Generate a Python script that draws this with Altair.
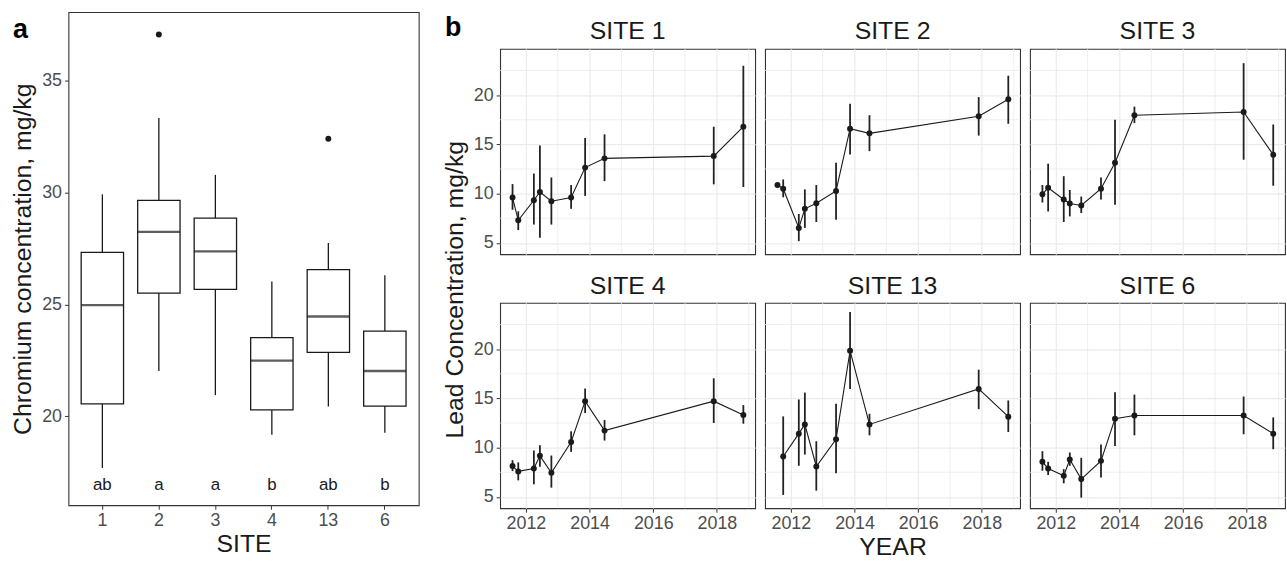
import altair as alt
import pandas as pd

FONT = "Liberation Sans"
INK = "#1A1A1A"
TICK_LABEL = "#4D4D4D"
GRID = "#EBEBEB"
BORDER = "#333333"

# ---------------- panel a : chromium boxplots ----------------
SITES_A = ["1", "2", "3", "4", "13", "6"]
WHISKER_LO = [17.70, 22.03, 20.95, 19.18, 20.44, 19.27]
Q1 = [20.56, 25.51, 25.67, 20.29, 22.86, 20.46]
MEDIAN = [24.97, 28.24, 27.37, 22.49, 24.46, 22.03]
Q3 = [27.33, 29.65, 28.86, 23.52, 26.56, 23.81]
WHISKER_HI = [29.92, 33.33, 30.79, 26.03, 27.75, 26.30]
OUTLIER_SITE = ["2", "13"]
OUTLIER_VAL = [37.06, 32.40]
LETTERS = ["ab", "a", "a", "b", "ab", "b"]
LETTER_Y = 16.95
A_YTICKS = [20, 25, 30, 35]
A_YDOMAIN = [16.03, 38.06]

# ---------------- panel b : lead time series ----------------
DATES = [2011.58, 2011.76, 2012.25, 2012.44, 2012.80, 2013.42, 2013.86, 2014.47, 2017.90, 2018.83]

SITE1_MEAN = [9.60, 7.29, 9.33, 10.17, 9.23, 9.60, 12.64, 13.58, 13.81, 16.79]
SITE1_LO = [8.36, 6.30, 6.86, 5.52, 6.86, 8.46, 9.77, 11.27, 10.94, 10.67]
SITE1_HI = [10.97, 8.20, 12.04, 14.88, 11.64, 10.87, 15.65, 16.02, 16.79, 22.98]

SITE2_MEAN = [10.87, 10.50, 6.52, 8.46, 9.03, 10.27, 16.59, 16.12, 17.86, 19.57]
SITE2_LO = [10.70, 9.63, 5.18, 6.52, 7.12, 7.36, 13.98, 14.31, 15.89, 17.09]
SITE2_HI = [11.00, 11.44, 7.93, 10.43, 10.87, 13.14, 19.13, 17.96, 19.80, 21.97]

SITE3_MEAN = [9.93, 10.60, 9.40, 9.00, 8.80, 10.50, 13.14, 17.96, 18.29, 13.95]
SITE3_LO = [9.10, 8.19, 7.12, 7.69, 8.03, 9.40, 8.86, 17.16, 13.44, 10.80]
SITE3_HI = [10.87, 13.04, 11.77, 10.37, 9.70, 11.64, 17.49, 18.83, 23.24, 17.02]

SITE4_MEAN = [8.13, 7.59, 7.89, 9.17, 7.45, 10.58, 14.72, 11.73, 14.72, 13.31]
SITE4_LO = [7.62, 6.68, 6.28, 8.06, 5.94, 9.57, 13.51, 10.72, 12.50, 12.43]
SITE4_HI = [8.73, 8.50, 9.71, 10.25, 9.20, 11.66, 16.00, 12.80, 17.04, 14.32]

SITE13_MEAN = [None, 9.10, 11.42, 12.36, 8.09, 10.85, 19.83, 12.36, 15.96, 13.14]
SITE13_LO = [None, 5.20, 8.16, 9.30, 5.64, 7.39, 15.96, 11.25, 13.91, 11.59]
SITE13_HI = [None, 13.17, 14.89, 15.59, 10.65, 14.45, 23.77, 13.44, 17.91, 14.79]

SITE6_MEAN = [8.56, 7.89, 7.15, 8.80, 6.81, 8.66, 12.94, 13.27, 13.27, 11.42]
SITE6_LO = [7.66, 7.22, 6.38, 8.16, 4.93, 6.98, 10.18, 11.25, 11.36, 9.84]
SITE6_HI = [9.64, 8.56, 7.82, 9.51, 8.97, 10.31, 15.63, 15.39, 15.19, 13.07]

B_XTICKS = [2012, 2014, 2016, 2018]
B_XMINOR = [2013, 2015, 2017, 2019]
B_YTICKS = [5, 10, 15, 20]
B_YMINOR = [7.5, 12.5, 17.5, 22.5]
B_XDOMAIN = [2011.19, 2019.20]
B_YDOMAIN = [3.85, 24.70]

# ---------------- sizes ----------------
A_W, A_H = 353, 497
B_W, B_H = 257, 207
PAD_INNER, PAD_OUTER = 0.25, 0.225
STEP = A_W / (len(SITES_A) - PAD_INNER + 2 * PAD_OUTER)
BOX_W = STEP * (1 - PAD_INNER)

# ================= panel a =================
box_df = pd.DataFrame({
    "site": SITES_A, "wlo": WHISKER_LO, "q1": Q1, "median": MEDIAN,
    "q3": Q3, "whi": WHISKER_HI, "letter": LETTERS,
    "ly": [LETTER_Y] * len(SITES_A),
})
out_df = pd.DataFrame({"site": OUTLIER_SITE, "value": OUTLIER_VAL})

xA = alt.X("site:N", sort=SITES_A,
           scale=alt.Scale(paddingInner=PAD_INNER, paddingOuter=PAD_OUTER),
           axis=alt.Axis(title="SITE", labelAngle=0, grid=False, titlePadding=3))
a_yscale = alt.Scale(domain=A_YDOMAIN, nice=False, zero=False)
a_yaxis = alt.Axis(title="Chromium concentration, mg/kg", values=A_YTICKS, grid=False,
                   labelPadding=3, titlePadding=6)


def yA(field):
    return alt.Y(field, scale=a_yscale, axis=a_yaxis)


base_a = alt.Chart(box_df)
lower = base_a.mark_rule(color=INK, strokeWidth=1.3).encode(x=xA, y=yA("wlo:Q"), y2="q1:Q")
upper = base_a.mark_rule(color=INK, strokeWidth=1.3).encode(x=xA, y=yA("q3:Q"), y2="whi:Q")
boxes = base_a.mark_bar(fill="white", stroke=INK, strokeWidth=1.3).encode(
    x=xA, y=yA("q1:Q"), y2="q3:Q")
medians = base_a.mark_tick(color=INK, thickness=2.4, size=BOX_W).encode(x=xA, y=yA("median:Q"))
letters = base_a.mark_text(font=FONT, fontSize=17, color=INK).encode(
    x=xA, y=yA("ly:Q"), text="letter:N")
outliers = alt.Chart(out_df).mark_circle(size=36, color=INK, opacity=1).encode(
    x=xA, y=yA("value:Q"))

panel_a = alt.layer(lower, upper, boxes, medians, outliers, letters).properties(
    width=A_W, height=A_H,
    title=alt.TitleParams("a", anchor="start", frame="bounds", font=FONT, fontSize=27,
                          fontWeight="bold", color="black", baseline="alphabetic",
                          offset=-53, dx=2),
)


# ================= panel b =================
def site_panel(name, means, lo, hi, show_y, show_x, x_title):
    df = pd.DataFrame({"year": DATES, "mean": means, "lo": lo, "hi": hi}).dropna()
    xaxis_kw = dict(values=B_XTICKS, format="d", grid=True, labels=show_x, ticks=show_x,
                    titlePadding=3)
    xaxis_kw["title"] = x_title if x_title else None
    xscale = alt.Scale(domain=B_XDOMAIN, nice=False, zero=False)
    xaxis = alt.Axis(**xaxis_kw)
    yscale = alt.Scale(domain=B_YDOMAIN, nice=False, zero=False)
    yaxis = alt.Axis(values=B_YTICKS, grid=True, labels=show_y, ticks=show_y, title=None,
                     labelPadding=3)

    def xB(field):
        return alt.X(field, scale=xscale, axis=xaxis)

    def yB(field):
        return alt.Y(field, scale=yscale, axis=yaxis)

    gx = alt.Chart(pd.DataFrame({"year": B_XMINOR})).mark_rule(
        color=GRID, strokeWidth=0.8).encode(x=xB("year:Q"))
    gy = alt.Chart(pd.DataFrame({"mean": B_YMINOR})).mark_rule(
        color=GRID, strokeWidth=0.8).encode(y=yB("mean:Q"))
    base = alt.Chart(df)
    err = base.mark_rule(color="#222222", strokeWidth=1.8).encode(
        x=xB("year:Q"), y=yB("lo:Q"), y2="hi:Q")
    line = base.mark_line(color=INK, strokeWidth=1.1).encode(
        x=xB("year:Q"), y=yB("mean:Q"))
    pts = base.mark_circle(size=36, color=INK, opacity=1).encode(
        x=xB("year:Q"), y=yB("mean:Q"))
    return alt.layer(gx, gy, err, line, pts).properties(
        width=B_W, height=B_H,
        title=alt.TitleParams(name, anchor="middle", frame="group", font=FONT, fontSize=25,
                              fontWeight="normal", color=INK, baseline="alphabetic",
                              offset=-16),
    )


row_top = alt.hconcat(
    site_panel("SITE 1", SITE1_MEAN, SITE1_LO, SITE1_HI, True, False, None),
    site_panel("SITE 2", SITE2_MEAN, SITE2_LO, SITE2_HI, False, False, None),
    site_panel("SITE 3", SITE3_MEAN, SITE3_LO, SITE3_HI, False, False, None),
    spacing=8,
)
row_bot = alt.hconcat(
    site_panel("SITE 4", SITE4_MEAN, SITE4_LO, SITE4_HI, True, True, None),
    site_panel("SITE 13", SITE13_MEAN, SITE13_LO, SITE13_HI, False, True, "YEAR"),
    site_panel("SITE 6", SITE6_MEAN, SITE6_LO, SITE6_HI, False, True, None),
    spacing=8,
)
inner_b = alt.vconcat(row_top, row_bot, spacing=18).properties(
    title=alt.TitleParams("Lead Concentration, mg/kg", orient="left", anchor="middle",
                          font=FONT, fontSize=25, fontWeight="normal", color=INK, offset=5),
)

# invisible zero-size anchor so that panel b's layout origin sits level with panel a's frame top
anchor = alt.Chart(pd.DataFrame({"v": [0]})).mark_point(size=0, opacity=0).properties(
    width=1, height=1, view=alt.ViewBackground(stroke="transparent"),
)

panel_b = alt.vconcat(anchor, inner_b, spacing=5).properties(
    title=alt.TitleParams("b", anchor="start", frame="bounds", font=FONT, fontSize=27,
                          fontWeight="bold", color="black", baseline="alphabetic",
                          offset=-52, dx=2),
)

chart = alt.hconcat(panel_a, panel_b, spacing=23).properties(
    padding={"left": 10, "top": 9, "right": 1, "bottom": 0},
    background="white",
).configure_view(
    stroke=BORDER, strokeWidth=1.1,
).configure_axis(
    labelFont=FONT, labelFontSize=18, labelColor=TICK_LABEL,
    titleFont=FONT, titleFontSize=25, titleFontWeight="normal", titleColor=INK,
    tickColor=BORDER, tickSize=4, labelPadding=2, titlePadding=5,
    domain=False, gridColor=GRID, gridWidth=1.2,
).configure_concat(spacing=8)

chart.save("out.html", embed_options={"renderer": "svg", "actions": False})
